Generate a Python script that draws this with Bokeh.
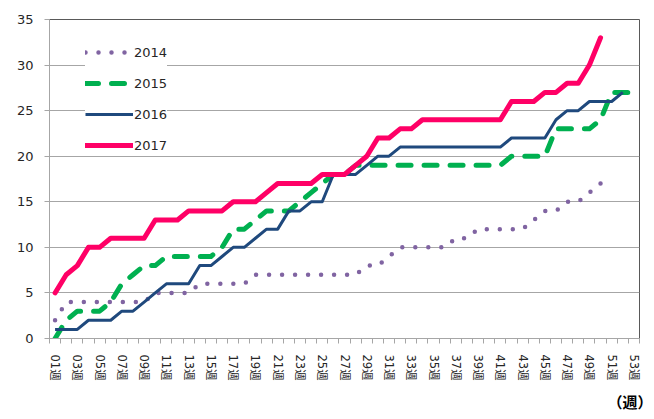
from bokeh.plotting import figure
from bokeh.models import FixedTicker, Legend, LegendItem, Title, Range1d
from bokeh.embed import file_html
from bokeh.resources import INLINE

# ---- data ----
s2014 = [2, 4, 4, 4, 4, 4, 4, 4, 4, 5,
         5, 5, 5, 6, 6, 6, 6, 6, 7, 7,
         7, 7, 7, 7, 7, 7, 7, 7, 8, 8,
         9, 10, 10, 10, 10, 10, 11, 11, 12, 12,
         12, 12, 12, 13, 14, 14, 15, 15, 16, 17,
         17]
s2015 = [0, 2, 3, 3, 3, 4, 6, 7, 8, 8,
         9, 9, 9, 9, 9, 10, 12, 12, 13, 14,
         14, 14, 15, 16, 17, 18, 18, 19, 19, 19,
         19, 19, 19, 19, 19, 19, 19, 19, 19, 19,
         19, 20, 20, 20, 20, 23, 23, 23, 23, 24,
         27, 27, 27]
s2016 = [1, 1, 1, 2, 2, 2, 3, 3, 4, 5,
         6, 6, 6, 8, 8, 9, 10, 10, 11, 12,
         12, 14, 14, 15, 15, 18, 18, 18, 19, 20,
         20, 21, 21, 21, 21, 21, 21, 21, 21, 21,
         21, 22, 22, 22, 22, 24, 25, 25, 26, 26,
         26, 27]
s2017 = [5, 7, 8, 10, 10, 11, 11, 11, 11, 13,
         13, 13, 14, 14, 14, 14, 15, 15, 15, 16,
         17, 17, 17, 17, 18, 18, 18, 19, 20, 22,
         22, 23, 23, 24, 24, 24, 24, 24, 24, 24,
         24, 26, 26, 26, 27, 27, 28, 28, 30, 33]
series_names = ["2014", "2015", "2016", "2017"]
week_labels = ["01週", "03週", "05週", "07週", "09週", "11週", "13週", "15週", "17週",
               "19週", "21週", "23週", "25週", "27週", "29週", "31週", "33週", "35週",
               "37週", "39週", "41週", "43週", "45週", "47週", "49週", "51週", "53週"]
n_weeks = 53
y_ticks = [0, 5, 10, 15, 20, 25, 30, 35]
unit_text = "（週）"

FONT = "DejaVu Sans, Noto Sans CJK JP"
GRID = "#a6a6a6"

p = figure(width=654, height=419, output_backend="svg", toolbar_location=None,
           x_range=Range1d(0.5, n_weeks + 0.5), y_range=Range1d(0, 35),
           min_border_left=49, min_border_right=15, min_border_top=19,
           min_border_bottom=81)
p.background_fill_color = "white"
p.border_fill_color = "white"
p.outline_line_color = "#595959"
p.outline_line_width = 1

# x axis
label_ticks = [int(l[:2]) for l in week_labels]
p.xaxis.ticker = FixedTicker(ticks=label_ticks,
                             minor_ticks=[i + 0.5 for i in range(0, n_weeks + 1)])
p.xaxis.major_label_overrides = {t: l for t, l in zip(label_ticks, week_labels)}
p.xaxis.major_label_orientation = "vertical"
p.xaxis.major_tick_out = 0
p.xaxis.major_tick_in = 0
p.xaxis.minor_tick_out = 5
p.xaxis.minor_tick_in = 0
p.xaxis.minor_tick_line_color = GRID
p.xaxis.axis_line_color = GRID
p.xaxis.major_label_standoff = 11
p.xaxis.major_label_text_font = FONT
p.xaxis.major_label_text_font_size = "11.5px"
p.xaxis.major_label_text_color = "#262626"

# y axis
p.yaxis.ticker = FixedTicker(ticks=y_ticks)
p.yaxis.major_tick_out = 5
p.yaxis.major_tick_in = 0
p.yaxis.minor_tick_line_color = None
p.yaxis.major_tick_line_color = GRID
p.yaxis.axis_line_color = GRID
p.yaxis.major_label_standoff = 11
p.yaxis.major_label_text_font = FONT
p.yaxis.major_label_text_font_size = "13px"
p.yaxis.major_label_text_color = "#262626"

p.xgrid.grid_line_color = None
p.ygrid.ticker = FixedTicker(ticks=y_ticks)
p.ygrid.grid_line_color = GRID
p.ygrid.grid_line_width = 1

def xs(s):
    return list(range(1, len(s) + 1))

r14 = p.line(xs(s2014), s2014, line_color="#8064a2", line_width=4.5,
             line_dash="0 13", line_cap="round", line_join="round")
r15 = p.line(xs(s2015), s2015, line_color="#00b050", line_width=5,
             line_dash="13 13", line_cap="round", line_join="round")
r16 = p.line(xs(s2016), s2016, line_color="#1f497d", line_width=3,
             line_join="round")
r17 = p.line(xs(s2017), s2017, line_color="#ff0066", line_width=5,
             line_cap="round", line_join="round")

legend = Legend(items=[LegendItem(label=n, renderers=[r])
                       for n, r in zip(series_names, [r14, r15, r16, r17])],
                location=(36, 183), glyph_width=48, glyph_height=20,
                label_height=20, spacing=11, padding=6, label_standoff=1,
                margin=0, border_line_color=None, background_fill_color="white",
                background_fill_alpha=1.0, label_text_font=FONT,
                label_text_font_size="13px", label_text_color="#262626")
p.add_layout(legend)

unit = Title(text=unit_text, align="right", offset=-13, standoff=16,
             text_font=FONT, text_font_size="15px", text_font_style="bold",
             text_color="#000000")
p.add_layout(unit, "below")

open("out.html", "w").write(file_html(p, INLINE))
